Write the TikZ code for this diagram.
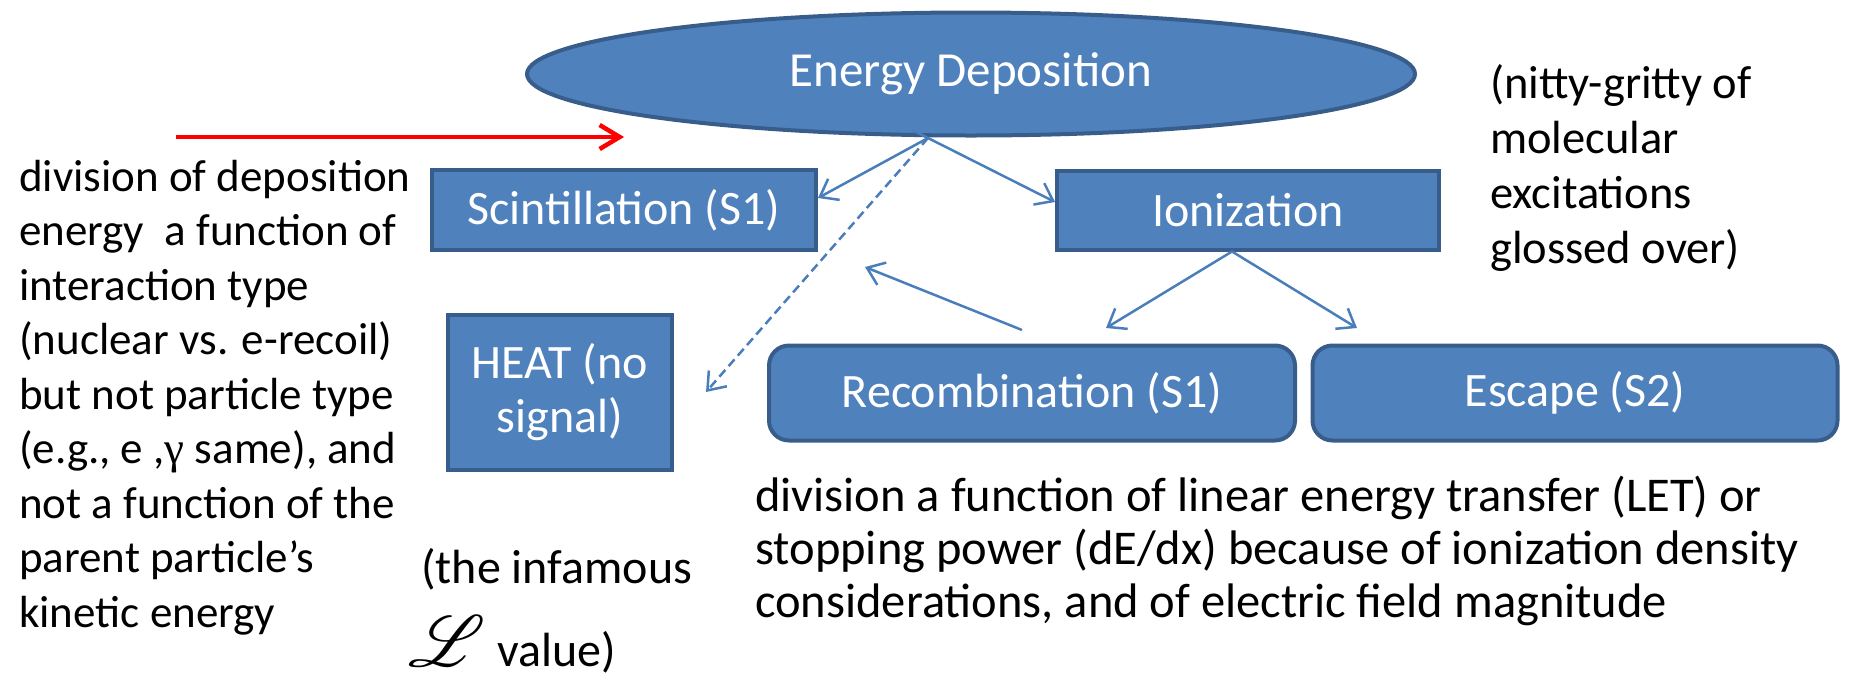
\documentclass[tikz,border=0pt]{standalone}
\usepackage{fontspec}
\setmainfont{Carlito}
\newfontfamily\greekfont{Liberation Serif}
\usepackage{graphicx}
\usepackage{mathrsfs}
\usetikzlibrary{shapes.geometric,arrows.meta,calc}
\definecolor{boxfill}{HTML}{4F81BD}
\definecolor{boxline}{HTML}{385D8A}
\definecolor{arrowblue}{HTML}{4A7EBB}
\definecolor{redarrow}{HTML}{FF0000}
\begin{document}
\begin{tikzpicture}[x=1pt,y=-1pt,
  box/.style={draw=boxline, line width=4pt, fill=boxfill, text=white,
    font=\fontsize{48}{54}\selectfont, inner sep=0pt, align=center},
  roundbox/.style={box, rounded corners=20pt},
  flow/.style={draw=arrowblue, line width=2.5pt,
    -{Straight Barb[length=16pt,width=24pt]}},
  note/.style={align=left, inner sep=0pt, anchor=base west, text=black}]
\useasboundingbox (0,0) rectangle (1855,678);

% nodes
\node[ellipse, draw=boxline, line width=4pt, fill=boxfill, text=white,
  font=\fontsize{49}{54}\selectfont, inner sep=0pt,
  minimum width=888pt, minimum height=123pt] (ED) at (971,74) {Energy Deposition};
\node[box, minimum width=384pt, minimum height=80pt] (scint) at (624,210) {Scintillation (S1)};
\node[box, minimum width=382pt, minimum height=79pt] (ion) at (1248,210) {Ionization};
\node[box, minimum width=224pt, minimum height=155pt] (heat) at (560,392) {HEAT (no\\signal)};
\node[roundbox, minimum width=526pt, minimum height=95pt] (recomb) at (1032,393) {Recombination (S1)};
\node[roundbox, minimum width=525pt, minimum height=95pt] (escape) at (1575,393) {Escape (S2)};

% text notes (base anchor = baseline of last line)
\node[note, font=\fontsize{45}{54.5}\selectfont] (left) at (19,627) {division of deposition\\energy\ \ a function of\\interaction type\\(nuclear vs. e-recoil)\\but not particle type\\(e.g., e ,{\greekfont γ} same), and\\not a function of the\\parent particle’s\\kinetic energy};
\node[note, font=\fontsize{46.5}{55}\selectfont] (nitty) at (1490,263) {(nitty-gritty of\\molecular\\excitations\\glossed over)};
\node[note, font=\fontsize{48.5}{53}\selectfont] (let) at (755,617) {division a function of linear energy transfer (LET) or\\stopping power (dE/dx) because of ionization density\\considerations, and of electric field magnitude};
\node[note, font=\fontsize{48}{53}\selectfont] (Lval) at (408,666) {\hspace*{13pt}(the infamous\\[24pt]\resizebox{77pt}{!}{$\mathscr{L}$}\hspace*{12pt}value)};

% free ends
\coordinate (redstart) at (176,137);
\coordinate (redend) at (624,137);
\coordinate (edsplit) at (928,138);
\coordinate (heatend) at (706,392);
\coordinate (rsstart) at (1022,330);
\coordinate (rsend) at (865,267);
\coordinate (recend) at (1106,328);
\coordinate (escend) at (1357,328);

% connectors
\draw[draw=redarrow, line width=4.5pt, -{Straight Barb[length=20pt,width=24pt]}] (redstart) -- (redend);
\draw[flow] (edsplit) -- ($(scint.east)+(0,-12)$);
\draw[flow, shorten <=-18pt] (edsplit) -- ($(ion.west)+(0,-8)$);
\draw[flow, dash pattern=on 9pt off 5pt] (edsplit) -- (heatend);
\draw[flow] (rsstart) -- (rsend);
\draw[flow] ($(ion.south)+(-16,0)$) -- (recend);
\draw[flow] ($(ion.south)+(-16,0)$) -- (escend);
\end{tikzpicture}
\end{document}
